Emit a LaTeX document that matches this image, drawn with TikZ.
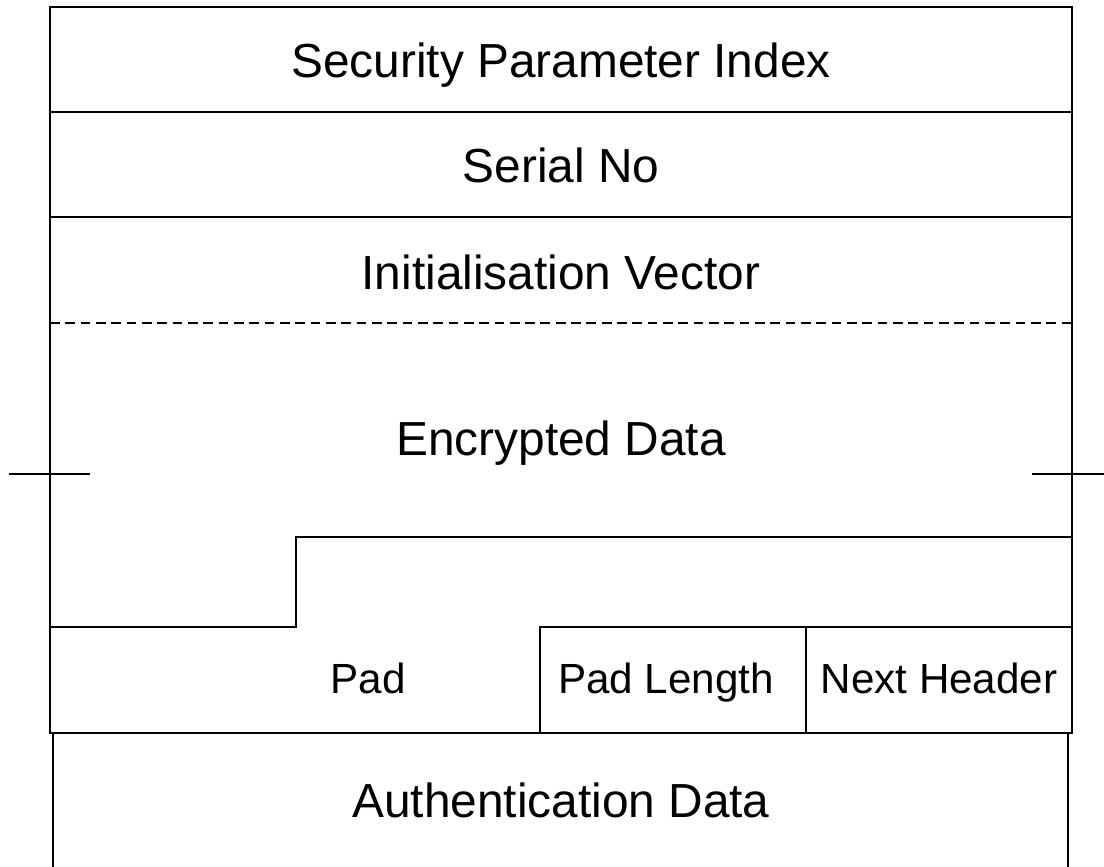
\documentclass[tikz,border=0pt]{standalone}
\usepackage{fontspec}
\setmainfont{Liberation Sans}

\begin{document}
\begin{tikzpicture}[x=0.025cm, y=-0.025cm, line width=1.4pt]
	\tikzstyle {field} = [inner sep=0pt, anchor=base, font=\fontsize{34}{40}\selectfont]
	\tikzstyle {trailer} = [inner sep=0pt, anchor=base, font=\fontsize{30}{36}\selectfont]
	\useasboundingbox (0,0) rectangle (1104,867);

	% header: SPI, serial no, IV
	\draw (50,733) -- (50,7) -- (1072,7) -- (1072,733) -- cycle;
	\draw (50,112) -- (1072,112);
	\draw (50,217) -- (1072,217);
	\draw[line width=1pt, dash pattern=on 6.9pt off 4pt] (50,323) -- (1072,323);
	\node[field] (spi) at (561,77) {Security Parameter Index};
	\node[field] (serial) at (561,182) {Serial No};
	\node[field] (iv) at (561,289) {Initialisation Vector};

	% payload
	\node[field] (data) at (561,455) {Encrypted Data};
	\draw (9,474) -- (90,474);
	\draw (1032,474) -- (1104,474);
	\draw (50,627) -- (296,627) -- (296,537) -- (1072,537);

	% trailer: pad, pad length, next header
	\draw (540,733) -- (540,627) -- (1072,627);
	\draw (806,627) -- (806,733);
	\node[trailer] (pad) at (368,693) {Pad};
	\node[trailer] (padlen) at (666,693) {Pad Length};
	\node[trailer] (next) at (939,693) {Next Header};

	% authentication data
	\draw (53,870) -- (53,733) -- (1068,733) -- (1068,870);
	\node[field] (auth) at (561,817) {Authentication Data};
\end{tikzpicture}
\end{document}
